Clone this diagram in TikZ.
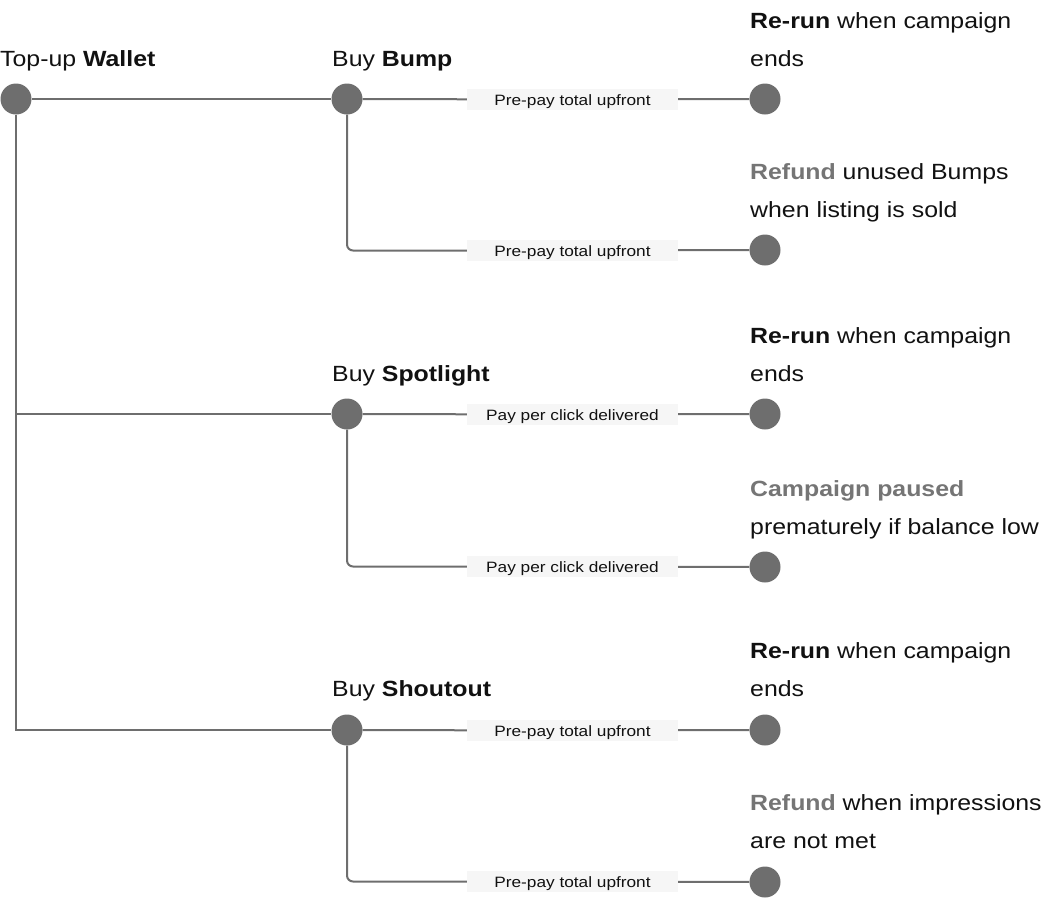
\documentclass[tikz,border=0pt]{standalone}
\usepackage{fontspec}
\setmainfont[FakeStretch=1.13]{Liberation Sans}
\newfontfamily\lblfont[FakeStretch=1.15]{Liberation Sans}
\definecolor{linegray}{HTML}{6E6E6E}
\definecolor{boxgray}{HTML}{F6F6F6}
\definecolor{txtgray}{HTML}{757575}
\definecolor{ink}{HTML}{111111}
\begin{document}
\begin{tikzpicture}[x=1pt,y=-1pt,
  dot/.style={circle,fill=linegray,minimum size=31pt,inner sep=0pt},
  conn/.style={draw=linegray,line width=2pt},
  lbl/.style={fill=boxgray,minimum width=211pt,minimum height=21pt,inner sep=0pt,text height=12pt,text depth=0pt,font=\lblfont\fontsize{15}{17}\selectfont,text=ink},
  txt/.style={anchor=base west,inner sep=0pt,font=\fontsize{22}{26}\selectfont,text=ink}]
\useasboundingbox (0,0) rectangle (1053,898);
% dots
\node[dot] (wallet) at (16,99) {};
\node[dot] (bump) at (347,99) {};
\node[dot] (spot) at (347,414) {};
\node[dot] (shout) at (347,730) {};
\node[dot] (r1) at (765,99) {};
\node[dot] (r2) at (765,250) {};
\node[dot] (r3) at (765,414) {};
\node[dot] (r4) at (765,567) {};
\node[dot] (r5) at (765,730) {};
\node[dot] (r6) at (765,882) {};
% labels
\node[lbl] (l1) at (572.5,99.5) {Pre-pay total upfront};
\node[lbl] (l2) at (572.5,250.5) {Pre-pay total upfront};
\node[lbl] (l3) at (572.5,414.5) {Pay per click delivered};
\node[lbl] (l4) at (572.5,566.5) {Pay per click delivered};
\node[lbl] (l5) at (572.5,730.5) {Pre-pay total upfront};
\node[lbl] (l6) at (572.5,881.5) {Pre-pay total upfront};
\coordinate (j) at (16,414);
% connectors
\draw[conn] (wallet) -- (bump);
\draw[conn] (wallet) |- (shout);
\draw[conn] (j) -- (spot);
\draw[conn] (bump) -- (l1) -- (r1);
\draw[conn,rounded corners=6pt] (bump) |- (l2);
\draw[conn] (l2) -- (r2);
\draw[conn] (spot) -- (l3) -- (r3);
\draw[conn,rounded corners=6pt] (spot) |- (l4);
\draw[conn] (l4) -- (r4);
\draw[conn] (shout) -- (l5) -- (r5);
\draw[conn,rounded corners=6pt] (shout) |- (l6);
\draw[conn] (l6) -- (r6);
% texts
\node[txt] (t0) at (0,66) {Top-up \textbf{Wallet}};
\node[txt] (t1) at (332,66) {Buy \textbf{Bump}};
\node[txt] (t2) at (332,381) {Buy \textbf{Spotlight}};
\node[txt] (t3) at (332,696) {Buy \textbf{Shoutout}};
\node[txt] (a1) at (750,28) {\textbf{Re-run} when campaign};
\node[txt] (a2) at (750,66) {ends};
\node[txt] (b1) at (750,179) {\textbf{\color{txtgray}Refund} unused Bumps};
\node[txt] (b2) at (750,217) {when listing is sold};
\node[txt] (c1) at (750,343) {\textbf{Re-run} when campaign};
\node[txt] (c2) at (750,381) {ends};
\node[txt] (d1) at (750,496) {\textbf{\color{txtgray}Campaign paused}};
\node[txt] (d2) at (750,534) {prematurely if balance low};
\node[txt] (e1) at (750,658) {\textbf{Re-run} when campaign};
\node[txt] (e2) at (750,696) {ends};
\node[txt] (f1) at (750,810) {\textbf{\color{txtgray}Refund} when impressions};
\node[txt] (f2) at (750,848) {are not met};
\end{tikzpicture}
\end{document}
